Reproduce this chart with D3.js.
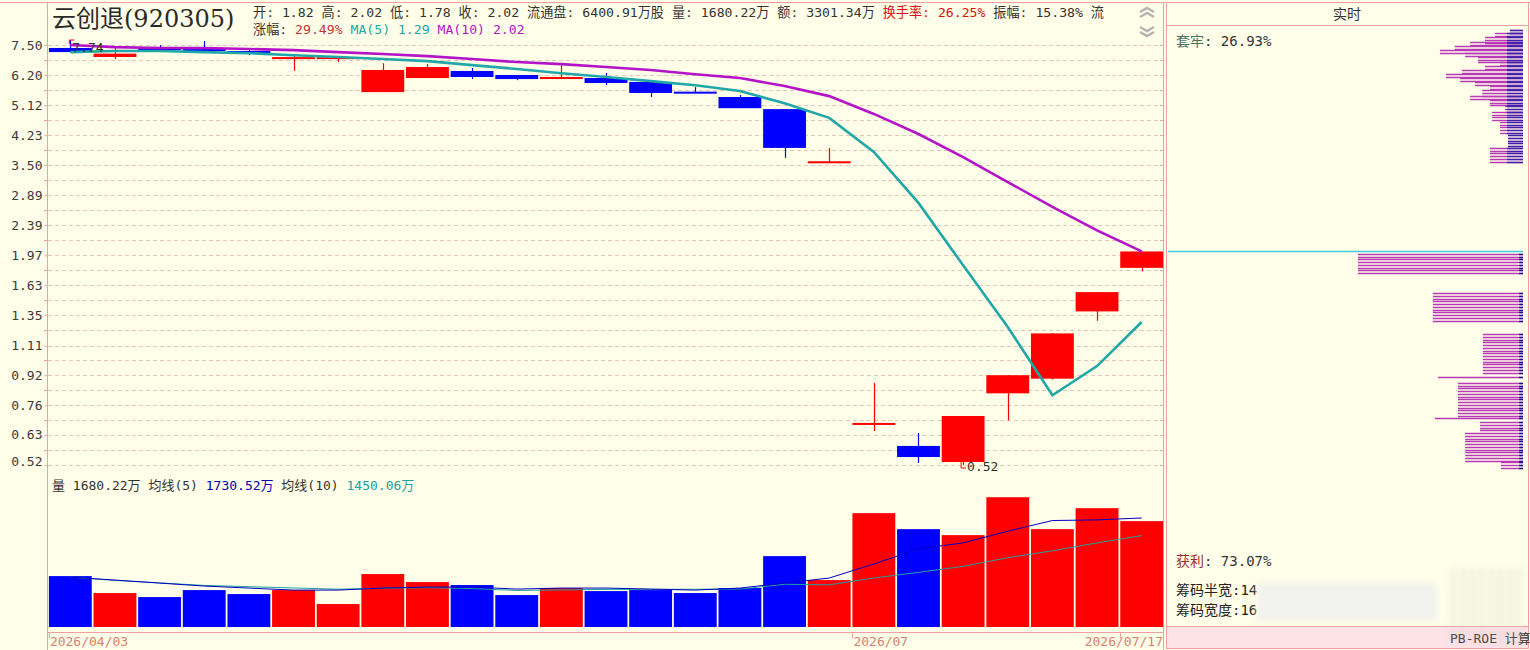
<!DOCTYPE html>
<html>
<head>
<meta charset="utf-8">
<script src="https://cdn.jsdelivr.net/npm/d3@7"></script>
<style>
  body { margin: 0; background: #fffee8; }
  svg { display: block; }
  text { font-family: "DejaVu Sans Mono", "Noto Sans CJK SC", monospace; white-space: pre; }
</style>
</head>
<body>
<svg id="chart" width="1530" height="650"></svg>
<script>
// ---- data ----
const priceTicks = [7.50, 6.20, 5.12, 4.23, 3.50, 2.89, 2.39, 1.97, 1.63, 1.35, 1.11, 0.92, 0.76, 0.63, 0.52]
const dateLabels = ["2026/04/03", "2026/07", "2026/07/17"]
const dateSlots  = [0, 18, 24]

const open  = [7.36, 6.95, 7.40, 7.26, 7.17, 6.90, 6.90, 5.56, 6.08, 6.36, 6.20, 6.08, 6.08, 5.93, 5.54, 5.39, 4.99, 3.56, 0.675, 0.587, 0.53, 0.82, 0.90, 1.38, 1.82]
const high  = [7.74, 7.36, 7.50, 7.69, 7.26, 7.03, 6.95, 6.68, 6.64, 6.48, 6.20, 6.60, 6.28, 5.93, 5.74, 5.46, 4.99, 3.90, 0.876, 0.637, 0.71, 0.92, 1.20, 1.56, 2.02]
const low   = [7.17, 6.86, 7.26, 7.20, 7.03, 6.36, 6.73, 5.56, 6.08, 6.04, 6.00, 6.08, 5.81, 5.39, 5.53, 5.02, 3.66, 3.56, 0.645, 0.527, 0.52, 0.69, 0.895, 1.30, 1.78]
const close = [7.17, 7.10, 7.26, 7.20, 7.10, 6.90, 6.90, 6.40, 6.52, 6.12, 6.04, 6.08, 5.89, 5.53, 5.53, 5.02, 3.90, 3.56, 0.675, 0.547, 0.71, 0.92, 1.20, 1.56, 2.02]
const ma5   = [7.17, 7.22, 7.22, 7.17, 7.12, 7.03, 6.95, 6.86, 6.77, 6.60, 6.44, 6.27, 6.12, 5.96, 5.81, 5.60, 5.18, 4.72, 3.80, 2.75, 1.85, 1.25, 0.81, 0.975, 1.29]
const ma10  = [7.50, 7.40, 7.36, 7.36, 7.31, 7.26, 7.17, 7.08, 6.99, 6.86, 6.73, 6.64, 6.52, 6.40, 6.23, 6.08, 5.78, 5.42, 4.84, 4.26, 3.68, 3.14, 2.68, 2.31, 2.02]

// volume in 万
const volume  = [808, 539, 475, 586, 523, 586, 364, 840, 713, 666, 507, 618, 570, 586, 539, 618, 1125, 745, 1807, 1553, 1458, 2060, 1553, 1886, 1680.22]
const volMa5  = [792, 745, 697, 650, 618, 586, 586, 618, 634, 634, 602, 618, 618, 602, 586, 618, 697, 777, 1000, 1240, 1335, 1520, 1690, 1700, 1730.52]
const volMa10 = [790, 740, 700, 660, 640, 620, 600, 615, 625, 610, 580, 588, 597, 597, 599, 602, 678, 669, 778, 867, 962, 1100, 1210, 1335, 1450.06]

// chip distribution bands (price high, price low, relative amount)
const chipHigh = [8.25, 8.09, 7.89, 7.64, 7.45, 7.26, 7.12, 6.95, 6.73, 6.56, 6.40, 6.23, 6.08, 5.93, 5.78, 5.63, 5.42, 5.29, 5.09, 4.90, 4.60, 4.23, 3.90, 1.99, 1.55, 1.195, 0.91, 0.876, 0.70, 0.683, 0.637, 0.53]
const chipLow  = [8.09, 7.89, 7.64, 7.45, 7.26, 7.12, 6.95, 6.73, 6.56, 6.40, 6.23, 6.08, 5.93, 5.78, 5.63, 5.42, 5.29, 5.09, 4.90, 4.60, 4.23, 3.90, 3.56, 1.76, 1.29, 0.93, 0.905, 0.71, 0.698, 0.641, 0.53, 0.506]
const chipAmt  = [3.7, 7.9, 10.7, 14.9, 19.2, 23.4, 16.3, 12.7, 6.5, 10.7, 17.2, 21.7, 17.7, 13.5, 9.3, 11.5, 14.9, 9.3, 5.1, 8.7, 6.5, 4.2, 9.3, 46.5, 25.4, 11.3, 23.9, 18.3, 24.8, 12.1, 16.3, 6.2]
const lastPrice = 2.02

// ---- colours ----
const UP = "#ff0000", DOWN = "#0000ff", FRAME = "#f0a0a0", GRID = "#e6c6b6"
const C_MA5 = "#20a8a8", C_MA10 = "#b414c8", INK = "#333333"

const svg = d3.select("#chart")

const x  = d3.scaleBand().domain(d3.range(open.length)).range([48, 1164]).paddingInner(0.04).paddingOuter(0.02)
const cx = i => x(i) + x.bandwidth() / 2
const y  = d3.scaleLog().domain([0.52, 7.50]).range([465, 45])
const yv = d3.scaleLinear().domain([0, 1000]).range([627, 564])

svg.append("rect").attr("width", 1530).attr("height", 650).attr("fill", "#fffee8")

// gridlines: at ticks and half way between them
const mids = priceTicks.slice(1).map((t, i) => Math.sqrt(t * priceTicks[i]))
const gridVals = priceTicks.concat(mids)
svg.append("g").selectAll("line").data(gridVals).enter().append("line")
  .attr("x1", 48).attr("x2", 1163)
  .attr("y1", d => Math.round(y(d)) + 0.5).attr("y2", d => Math.round(y(d)) + 0.5)
  .attr("stroke", GRID).attr("stroke-dasharray", "4,3")

// left axis
const axis = svg.append("g").attr("transform", "translate(47.5,0)")
  .call(d3.axisLeft(y).tickValues(priceTicks).tickFormat(d3.format(".2f")).tickSize(3).tickPadding(2))
axis.select(".domain").remove()
axis.selectAll(".tick line").attr("stroke", FRAME)
axis.selectAll(".tick text").attr("fill", "#3a3a3a").attr("font-size", 13)
axis.selectAll(".tick").filter(d => d === 0.52).select("text").attr("dy", "0.05em")
svg.append("g").selectAll("line").data(mids).enter().append("line")
  .attr("x1", 44).attr("x2", 47).attr("y1", d => Math.round(y(d)) + 0.5).attr("y2", d => Math.round(y(d)) + 0.5)
  .attr("stroke", FRAME)
svg.append("g").selectAll("line").data(gridVals).enter().append("line")
  .attr("x1", 1160).attr("x2", 1164).attr("y1", d => Math.round(y(d)) + 0.5).attr("y2", d => Math.round(y(d)) + 0.5)
  .attr("stroke", FRAME)

// frame
svg.append("line").attr("x1", 0).attr("x2", 1530).attr("y1", 2.5).attr("y2", 2.5).attr("stroke", FRAME)
svg.append("line").attr("x1", 47.5).attr("x2", 47.5).attr("y1", 3).attr("y2", 650).attr("stroke", FRAME)
svg.append("line").attr("x1", 1163.5).attr("x2", 1163.5).attr("y1", 3).attr("y2", 650).attr("stroke", FRAME)
svg.append("line").attr("x1", 47).attr("x2", 1164).attr("y1", 632.5).attr("y2", 632.5).attr("stroke", FRAME)

// volume bars
const colorOf = i => (close[i] >= open[i] ? UP : DOWN)
svg.append("g").selectAll("rect").data(volume).enter().append("rect")
  .attr("x", (d, i) => x(i)).attr("width", x.bandwidth())
  .attr("y", d => yv(d)).attr("height", d => yv(0) - yv(d))
  .attr("fill", (d, i) => colorOf(i))

const vline = d3.line().x((d, i) => cx(i)).y(d => yv(d))
svg.append("path").datum(volMa10).attr("d", vline).attr("fill", "none").attr("stroke", "#20a0a0").attr("stroke-width", 1)
svg.append("path").datum(volMa5).attr("d", vline).attr("fill", "none").attr("stroke", "#0000c0").attr("stroke-width", 1)

// candles
const cg = svg.append("g")
open.forEach((o, i) => {
  const col = colorOf(i)
  cg.append("line").attr("x1", Math.round(cx(i)) + 0.5).attr("x2", Math.round(cx(i)) + 0.5)
    .attr("y1", y(high[i])).attr("y2", y(low[i])).attr("stroke", col).attr("stroke-width", 1.2)
  const top = y(Math.max(o, close[i])), bot = y(Math.min(o, close[i]))
  cg.append("rect").attr("x", x(i)).attr("width", x.bandwidth())
    .attr("y", bot - top < 2 ? top - 1 : top).attr("height", Math.max(2, bot - top))
    .attr("fill", col)
})

// moving averages
const pline = d3.line().x((d, i) => cx(i)).y(d => y(d))
svg.append("path").datum(ma5).attr("d", pline).attr("fill", "none").attr("stroke", C_MA5).attr("stroke-width", 2.6)
svg.append("path").datum(ma10).attr("d", pline).attr("fill", "none").attr("stroke", C_MA10).attr("stroke-width", 2.6)

// high / low markers
const hiIdx = high.indexOf(d3.max(high)), loIdx = low.indexOf(d3.min(low))
svg.append("path").attr("d", `M${cx(hiIdx) - 1},${y(high[hiIdx]) + 4} V${y(high[hiIdx])} H${cx(hiIdx) + 4}`)
  .attr("fill", "none").attr("stroke", UP)
svg.append("text").attr("x", cx(hiIdx) + 2).attr("y", y(high[hiIdx]) + 12).attr("font-size", 13).attr("fill", INK)
  .text(d3.format(".2f")(high[hiIdx]))
svg.append("path").attr("d", `M${cx(loIdx) - 2},${y(low[loIdx]) - 3} V${y(low[loIdx]) + 3} H${cx(loIdx) + 3}`)
  .attr("fill", "none").attr("stroke", UP)
svg.append("text").attr("x", cx(loIdx) + 4).attr("y", y(low[loIdx]) + 6).attr("font-size", 13).attr("fill", INK)
  .text(d3.format(".2f")(low[loIdx]))

// title + header
svg.append("text").attr("x", 52).attr("y", 27).attr("font-size", 24).attr("fill", "#2a2a2a")
  .style("font-family", "'DejaVu Serif', 'Noto Sans CJK SC', serif").text("云创退(920305)")

const h1 = svg.append("text").attr("x", 253).attr("y", 17).attr("font-size", 13.15).attr("fill", INK)
h1.append("tspan").text("开: 1.82 高: 2.02 低: 1.78 收: 2.02 流通盘: 6400.91万股 量: 1680.22万 额: 3301.34万 ")
h1.append("tspan").attr("fill", "#e01010").text("换手率: 26.25%")
h1.append("tspan").text(" 振幅: 15.38% 流")

const h2 = svg.append("text").attr("x", 253).attr("y", 34).attr("font-size", 13.15).attr("fill", INK)
h2.append("tspan").text("涨幅: ")
h2.append("tspan").attr("fill", "#c03838").text("29.49%")
h2.append("tspan").attr("fill", C_MA5).text(" MA(5) " + ma5[ma5.length - 1].toFixed(2))
h2.append("tspan").attr("fill", C_MA10).text(" MA(10) " + ma10[ma10.length - 1].toFixed(2))

// scroll chevrons
const chev = svg.append("g").attr("fill", "none").attr("stroke", "#b4b4b4").attr("stroke-width", 2.4)
chev.append("path").attr("d", "M1140,12 l7,-4 l7,4 M1140,17 l7,-4 l7,4")
chev.append("path").attr("d", "M1140,27 l7,4 l7,-4 M1140,32 l7,4 l7,-4")

// volume header
const vh = svg.append("text").attr("x", 52).attr("y", 490).attr("font-size", 13).attr("fill", INK)
vh.append("tspan").text("量 " + volume[volume.length - 1].toFixed(2) + "万 均线(5) ")
vh.append("tspan").attr("fill", "#0000b0").text(volMa5[volMa5.length - 1].toFixed(2) + "万")
vh.append("tspan").text(" 均线(10) ")
vh.append("tspan").attr("fill", "#20a0a0").text(volMa10[volMa10.length - 1].toFixed(2) + "万")

// date axis labels
dateLabels.forEach((lab, k) => {
  const i = dateSlots[k]
  const last = i === open.length - 1
  svg.append("line").attr("x1", Math.round(x(i)) + 0.5).attr("x2", Math.round(x(i)) + 0.5)
    .attr("y1", 633).attr("y2", 638).attr("stroke", FRAME)
  svg.append("text").attr("x", last ? 1163 : x(i) + 1).attr("y", 646)
    .attr("text-anchor", last ? "end" : "start").attr("font-size", 13).attr("fill", "#d88070").text(lab)
})

// ---- right panel: chip distribution ----
const rp = svg.append("g")
rp.append("rect").attr("x", 1166.5).attr("y", 2.5).attr("width", 362).attr("height", 646)
  .attr("fill", "#fffee8").attr("stroke", FRAME)
rp.append("line").attr("x1", 1166).attr("x2", 1529).attr("y1", 25.5).attr("y2", 25.5).attr("stroke", FRAME)
rp.append("text").attr("x", 1347).attr("y", 19).attr("text-anchor", "middle").attr("font-size", 14).attr("fill", INK).text("实时")

const xc = d3.scaleLinear().domain([0, 100]).range([0, 355])
const chipRight = 1523
chipHigh.forEach((hi, k) => {
  const y0 = y(hi), y1 = y(chipLow[k])
  const len = xc(chipAmt[k])
  const above = chipLow[k] > lastPrice
  for (let yy = y0; yy <= y1 + 0.5; yy += 2.75) {
    const yl = Math.round(yy) + 0.5
    rp.append("line").attr("x1", chipRight - len).attr("x2", chipRight).attr("y1", yl).attr("y2", yl)
      .attr("stroke", "#b838b8").attr("stroke-width", 1.4)
    const bl = above ? Math.min(len, 16) : 4
    rp.append("line").attr("x1", chipRight - bl).attr("x2", chipRight).attr("y1", yl).attr("y2", yl)
      .attr("stroke", above ? "#3a22a8" : "#101090").attr("stroke-width", 1.4)
  }
})
rp.append("line").attr("x1", 1168).attr("x2", chipRight).attr("y1", Math.round(y(lastPrice)) + 0.5)
  .attr("y2", Math.round(y(lastPrice)) + 0.5).attr("stroke", "#40d0e0").attr("stroke-width", 1.5)

const t1 = rp.append("text").attr("x", 1176).attr("y", 46).attr("font-size", 14).attr("fill", INK)
t1.append("tspan").attr("fill", "#4a7060").text("套牢")
t1.append("tspan").text(": 26.93%")
const t2 = rp.append("text").attr("x", 1176).attr("y", 566).attr("font-size", 14).attr("fill", INK)
t2.append("tspan").attr("fill", "#a03030").text("获利")
t2.append("tspan").text(": 73.07%")
rp.append("text").attr("x", 1176).attr("y", 595).attr("font-size", 14).attr("fill", "#222").text("筹码半宽:14")
rp.append("text").attr("x", 1176).attr("y", 615).attr("font-size", 14).attr("fill", "#222").text("筹码宽度:16")

// bottom strip
rp.append("rect").attr("x", 1166.5).attr("y", 626.5).attr("width", 362).attr("height", 22)
  .attr("fill", "#fde2e6").attr("stroke", FRAME)
rp.append("text").attr("x", 1450).attr("y", 643).attr("font-size", 13).attr("fill", "#333").text("PB-ROE 计算")

// smudged overlay in the reference
const defs = svg.append("defs")
defs.append("filter").attr("id", "blur").attr("x", "-20%").attr("y", "-50%").attr("width", "140%").attr("height", "200%")
  .append("feGaussianBlur").attr("stdDeviation", 3)
rp.append("rect").attr("x", 1257).attr("y", 583).attr("width", 180).attr("height", 38)
  .attr("fill", "#f2f2ee").attr("filter", "url(#blur)")
const stripes = [1452, 1462, 1471, 1480, 1490, 1499, 1508, 1517]
rp.append("g").attr("filter", "url(#blur)").selectAll("rect").data(stripes).enter().append("rect")
  .attr("x", d => d).attr("y", 568).attr("width", 3).attr("height", 76)
  .attr("fill", "#cccccc").attr("opacity", 0.55)
</script>
</body>
</html>
